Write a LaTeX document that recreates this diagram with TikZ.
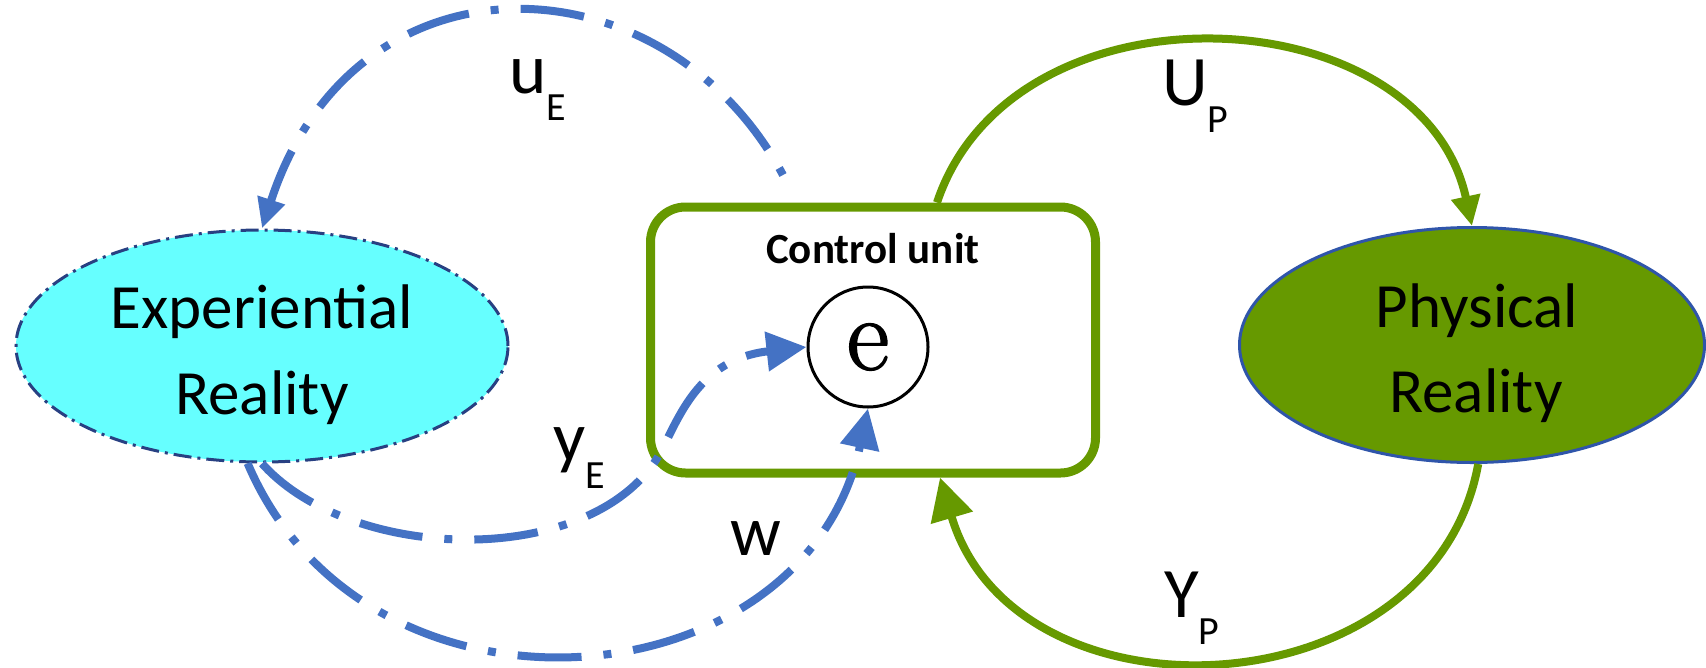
\documentclass[tikz,border=0pt]{standalone}
\usepackage{fontspec}
\setmainfont{Carlito}
\newfontfamily\circserif{Latin Modern Roman}[FakeBold=1.5]
\usetikzlibrary{shapes.geometric,arrows.meta}
\definecolor{cyanfill}{RGB}{102,255,255}
\definecolor{grn}{RGB}{102,153,0}
\definecolor{blu}{RGB}{68,114,196}
\definecolor{navy}{RGB}{40,64,130}
\definecolor{ellblue}{RGB}{47,85,170}
\newcommand{\withsub}[2]{#1\raisebox{-27pt}{\fontsize{40}{40}\selectfont #2}}
\begin{document}
\begin{tikzpicture}[x=1pt,y=-1pt,
  bluepath/.style={blu, line width=8pt, dash pattern=on 64pt off 22pt on 8pt off 22pt, -{Triangle[length=40pt,width=38pt]}},
  smallblue/.style={bluepath, -{Triangle[length=30pt,width=27pt]}},
  greenpath/.style={grn, line width=8pt, -{Triangle[length=42pt,width=42pt]}},
  smallgreen/.style={greenpath, -{Triangle[length=30pt,width=28pt]}},
  realm/.style={ellipse, inner sep=0pt},
  bigtext/.style={font=\fontsize{63}{63}\selectfont, anchor=base, inner sep=0pt},
  lab/.style={font=\fontsize{71}{71}\selectfont, anchor=base west, inner sep=0pt},
]
\useasboundingbox (0,0) rectangle (1706,667);

% nodes
\node[realm, draw=navy, line width=3pt, fill=cyanfill,
      dash pattern=on 18pt off 6pt on 3pt off 6pt,
      minimum width=492pt, minimum height=232pt] (exp) at (262,346) {};
\node[bigtext] (expA) at (262,328) {Experiential};
\node[bigtext] (expB) at (262,414) {Reality};

\node[realm, draw=ellblue, line width=3pt, fill=grn,
      minimum width=465pt, minimum height=235pt] (phys) at (1472,345) {};
\node[bigtext] (physA) at (1477,327) {Physical};
\node[bigtext] (physB) at (1476,412) {Reality};

\node[draw=grn, line width=9pt, rounded corners=35pt,
      minimum width=445pt, minimum height=266pt, inner sep=0pt] (cu) at (873,340) {};
\node[font=\fontsize{43}{43}\selectfont\bfseries, anchor=base west, inner sep=0pt] (cut) at (766,263) {Control unit};
\node[circle, draw=black, line width=3pt, minimum size=120pt, inner sep=0pt,
      font=\circserif\fontsize{104}{104}\selectfont] (e) at (868,347) {e};

% labels
\node[lab] (luE) at (509,93) {\withsub{u}{E}};
\node[lab] (lUP) at (1162,105) {\withsub{U}{P}};
\node[lab] (lyE) at (553,461) {\withsub{y}{E}};
\node[lab] (lw) at (730,555) {w};
\node[lab] (lYP) at (1164,617) {\withsub{Y}{P}};

% connectors
\coordinate (uEs) at (783,175);
\draw[smallblue, dash pattern=on 8pt off 22pt on 64pt off 22pt] (uEs) .. controls (665,-45) and (355,-57) .. (exp.north);
\draw[bluepath] (exp.south) .. controls (349,561) and (580,569) .. (654,463)
      .. controls (675,433) and (690,360) .. (e.west);
\draw[bluepath] (exp.-97) .. controls (366,742) and (804,707) .. (e.south);

\draw[smallgreen] ([xshift=64pt]cu.north) .. controls (1013,-25) and (1422,-6) .. (phys.north);
\draw[greenpath] (phys.-87) .. controls (1433,714) and (1015,731) .. ([xshift=67pt]cu.south);
\end{tikzpicture}
\end{document}
